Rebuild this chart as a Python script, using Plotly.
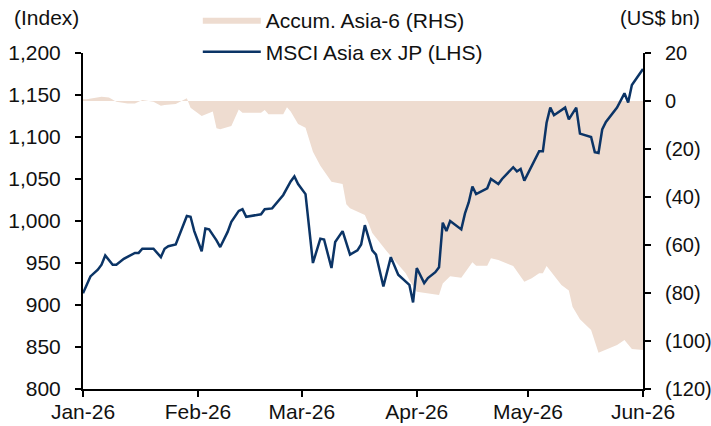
import plotly.graph_objects as go

# MSCI Asia ex JP index (LHS)
msci_dates = [
    "2026-01-01", "2026-01-03", "2026-01-05", "2026-01-06", "2026-01-07", "2026-01-09",
    "2026-01-10", "2026-01-12", "2026-01-15", "2026-01-16", "2026-01-17", "2026-01-20",
    "2026-01-22", "2026-01-23", "2026-01-24", "2026-01-26", "2026-01-29", "2026-01-30",
    "2026-01-31", "2026-02-02", "2026-02-03", "2026-02-04", "2026-02-06", "2026-02-07",
    "2026-02-09", "2026-02-10", "2026-02-12", "2026-02-13", "2026-02-14", "2026-02-17",
    "2026-02-18", "2026-02-19", "2026-02-21", "2026-02-24", "2026-02-26", "2026-02-27",
    "2026-02-28", "2026-03-02", "2026-03-04", "2026-03-06", "2026-03-07", "2026-03-09",
    "2026-03-10", "2026-03-12", "2026-03-14", "2026-03-16", "2026-03-17", "2026-03-18",
    "2026-03-20", "2026-03-21", "2026-03-23", "2026-03-25", "2026-03-27", "2026-03-30",
    "2026-03-31", "2026-04-01", "2026-04-03", "2026-04-04", "2026-04-06", "2026-04-07",
    "2026-04-08", "2026-04-09", "2026-04-10", "2026-04-13", "2026-04-14", "2026-04-15",
    "2026-04-16", "2026-04-17", "2026-04-20", "2026-04-21", "2026-04-23", "2026-04-24",
    "2026-04-27", "2026-04-28", "2026-04-29", "2026-04-30", "2026-05-04", "2026-05-05",
    "2026-05-06", "2026-05-07", "2026-05-08", "2026-05-11", "2026-05-12", "2026-05-14",
    "2026-05-15", "2026-05-18", "2026-05-19", "2026-05-20", "2026-05-21", "2026-05-22",
    "2026-05-25", "2026-05-27", "2026-05-28", "2026-05-29", "2026-06-01",
]
msci_values = [
    914, 934, 942, 948, 959, 948,
    948, 955, 962, 962, 967, 967,
    957, 967, 970, 972, 1006, 1005,
    988, 964, 991, 990, 977, 969,
    987, 999, 1012, 1014, 1005, 1007,
    1008, 1014, 1015, 1031, 1047, 1053,
    1044, 1032, 950, 979, 978, 944,
    975, 988, 960, 965, 972, 995,
    965, 960, 922, 957, 936, 924,
    903, 944, 926, 932, 939, 945,
    998, 988, 1000, 990, 1009, 1022,
    1041, 1032, 1039, 1050, 1044, 1050,
    1064, 1059, 1062, 1048, 1083, 1083,
    1117, 1135, 1126, 1135, 1121, 1135,
    1104, 1100, 1082, 1081, 1109, 1118,
    1135, 1152, 1141, 1162, 1181,
]

# Accumulated Asia-6 flows, US$ bn (RHS)
flow_dates = [
    "2026-01-01", "2026-01-02", "2026-01-06", "2026-01-08", "2026-01-10", "2026-01-13",
    "2026-01-15", "2026-01-17", "2026-01-20", "2026-01-22", "2026-01-23", "2026-01-26",
    "2026-01-29", "2026-01-30", "2026-02-02", "2026-02-04", "2026-02-05", "2026-02-06",
    "2026-02-07", "2026-02-10", "2026-02-12", "2026-02-13", "2026-02-18", "2026-02-19",
    "2026-02-20", "2026-02-24", "2026-02-25", "2026-02-26", "2026-02-28", "2026-03-02",
    "2026-03-04", "2026-03-06", "2026-03-09", "2026-03-12", "2026-03-13", "2026-03-14",
    "2026-03-18", "2026-03-19", "2026-03-20", "2026-03-24", "2026-03-29", "2026-03-30",
    "2026-04-01", "2026-04-07", "2026-04-08", "2026-04-10", "2026-04-13", "2026-04-16",
    "2026-04-17", "2026-04-20", "2026-04-21", "2026-04-23", "2026-04-27", "2026-04-30",
    "2026-05-02", "2026-05-04", "2026-05-05", "2026-05-06", "2026-05-10", "2026-05-12",
    "2026-05-13", "2026-05-15", "2026-05-18", "2026-05-20", "2026-05-25", "2026-05-27",
    "2026-05-29", "2026-06-01",
]
flow_values = [
    0.7, 0.7, 1.8, 1.5, -0.3, -1.0,
    -1.0, 0.4, -0.3, -2.0, -1.7, -1.2,
    1.1, -2.8, -6.2, -5.1, -4.4, -11.4,
    -11.8, -10.4, -3.5, -4.9, -4.9, -3.8,
    -5.5, -5.5, -2.6, -4.4, -9.6, -11.1,
    -21.1, -27.0, -33.6, -34.6, -43.0, -44.7,
    -47.5, -51.0, -55.0, -62.8, -71.8, -74.6,
    -79.5, -80.8, -76.0, -73.0, -73.6, -67.2,
    -68.6, -68.6, -65.5, -66.3, -68.8, -75.3,
    -73.9, -71.8, -71.8, -68.8, -76.7, -79.0,
    -85.7, -90.9, -95.4, -104.9, -101.7, -99.6,
    -103.3, -103.8,
]

rhs_ticks = [20, 0, -20, -40, -60, -80, -100, -120]
rhs_labels = ["20", "0", "(20)", "(40)", "(60)", "(80)", "(100)", "(120)"]

FONT = "Liberation Sans, Arial, sans-serif"
TXT = dict(family=FONT, size=21, color="#111111")
TXT_R = dict(family=FONT, size=20, color="#111111")

axis_style = dict(
    showgrid=False, zeroline=False,
    showline=True, linecolor="black", linewidth=2,
    ticks="outside", ticklen=6, tickwidth=2, tickcolor="black",
    ticklabeloverflow="allow",
)

fig = go.Figure()

fig.add_trace(go.Scatter(
    x=flow_dates, y=flow_values,
    name="Accum. Asia-6 (RHS)",
    mode="lines", fill="tozeroy",
    fillcolor="#EEDCD0", line=dict(width=0, color="#EEDCD0"),
    yaxis="y", legend="legend",
))
fig.add_trace(go.Scatter(
    x=msci_dates, y=msci_values,
    name="MSCI Asia ex JP (LHS)",
    mode="lines", line=dict(color="#0B3466", width=2.5),
    yaxis="y2", legend="legend2",
))

fig.update_layout(
    width=711, height=426,
    margin=dict(l=83, r=68, t=53, b=37, autoexpand=False),
    paper_bgcolor="white", plot_bgcolor="white",
    font=TXT,
    xaxis=dict(
        type="date", range=["2026-01-01", "2026-06-01"],
        tick0="2026-01-01", dtick="M1", tickformat="%b-%y",
        ticklabelstandoff=-3, tickfont=TXT,
        **axis_style,
    ),
    yaxis=dict(
        side="right", range=[-120, 20],
        tickvals=rhs_ticks, ticktext=rhs_labels,
        ticklabelstandoff=10, tickfont=TXT_R,
        **axis_style,
    ),
    yaxis2=dict(
        overlaying="y", side="left", range=[800, 1200],
        dtick=50, tickformat=",d",
        ticklabelstandoff=10, tickfont=TXT,
        **axis_style,
    ),
    showlegend=True,
    legend=dict(
        x=0.205, y=1.0 + 33 / 336, xanchor="left", yanchor="middle",
        bgcolor="rgba(0,0,0,0)", itemwidth=58, font=TXT,
    ),
    legend2=dict(
        x=0.205, y=1.0 + 1 / 336, xanchor="left", yanchor="middle",
        bgcolor="rgba(0,0,0,0)", itemwidth=58, font=TXT,
    ),
    annotations=[
        dict(text="(Index)", xref="paper", yref="paper", x=-0.127, y=1.0 + 35 / 336,
             xanchor="left", yanchor="middle", showarrow=False, font=TXT),
        dict(text="(US$ bn)", xref="paper", yref="paper", x=1.0 + 59 / 560, y=1.0 + 35 / 336,
             xanchor="right", yanchor="middle", showarrow=False, font=TXT_R),
    ],
)

# drop the page's default body margin and scrollbars so the figure fills the window
fig.write_html(
    "out.html",
    config={"displayModeBar": False},
    post_script="document.body.style.margin='0';"
                "document.documentElement.style.overflow='hidden';",
)
